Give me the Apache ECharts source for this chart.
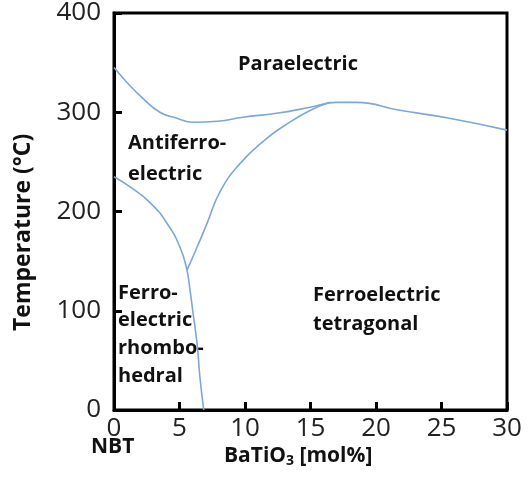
<!DOCTYPE html>
<html>
<head>
<meta charset="utf-8">
<script src="https://cdn.jsdelivr.net/npm/echarts@6/dist/echarts.min.js"></script>
<style>html,body{margin:0;padding:0;background:#fff;}#c{width:531px;height:477px;}</style>
</head>
<body>
<div id="c"></div>
<script>
// Paraelectric boundary (upper curve)
var paraX = [0, 1.2, 2.2, 3.5, 4.8, 6.0, 7.9, 9.85, 12.4, 15.0, 17.0, 18.5, 21.8, 25.6, 30];
var paraY = [345, 327, 314, 300, 294, 290, 291, 295, 299, 305, 310, 310, 302, 294, 282];
// Antiferroelectric / rhombohedral boundary
var antiX = [0, 1.2, 2.75, 4.05, 5.04, 5.57, 5.8, 6.03, 6.34, 6.56, 6.85];
var antiY = [235, 225, 209, 188, 164, 141, 121, 98, 67, 33, 0];
// Antiferroelectric / tetragonal boundary
var tetX = [5.57, 6.34, 7.1, 8.1, 9.6, 11.5, 13.3, 15.0, 16.5];
var tetY = [141, 164, 188, 220, 248, 272, 289, 302, 310];

var xTicks = [0, 5, 10, 15, 20, 25, 30];
var yTicks = [0, 100, 200, 300, 400];

function pairs(xs, ys) { return xs.map(function (x, i) { return [x, ys[i]]; }); }

var chart = echarts.init(document.getElementById('c'));
var lineStyle = { color: '#7da7d8', width: 1.6 };
var font = '"Open Sans", sans-serif';
var labelStyle = { fontFamily: font, fontWeight: 'bold', fontSize: 20, fill: '#111' };

chart.setOption({
  animation: false,
  grid: { left: 114, right: 24, top: 13, bottom: 67, show: true, borderColor: '#000', borderWidth: 3 },
  xAxis: {
    type: 'value', min: 0, max: 30, interval: 5,
    axisLine: { show: true, lineStyle: { color: '#000', width: 3 } },
    axisTick: { show: true, inside: true, length: 8, lineStyle: { color: '#000', width: 3 } },
    axisLabel: { fontSize: 26, color: '#222', fontFamily: font, margin: 6 },
    splitLine: { show: false }
  },
  yAxis: {
    type: 'value', min: 0, max: 400, interval: 100,
    axisLine: { show: true, lineStyle: { color: '#000', width: 3 } },
    axisTick: { show: true, inside: true, length: 8, lineStyle: { color: '#000', width: 3 } },
    axisLabel: { fontSize: 26, color: '#222', fontFamily: font, margin: 13 },
    splitLine: { show: false }
  },
  series: [
    { type: 'line', data: pairs(paraX, paraY), smooth: 0.5, showSymbol: false, lineStyle: lineStyle },
    { type: 'line', data: pairs(antiX, antiY), smooth: 0.5, showSymbol: false, lineStyle: lineStyle },
    { type: 'line', data: pairs(tetX, tetY), smooth: 0.5, showSymbol: false, lineStyle: lineStyle }
  ],
  graphic: [
    { type: 'text', left: 238, top: 49, style: Object.assign({ text: 'Paraelectric', lineHeight: 30 }, labelStyle) },
    { type: 'text', left: 128, top: 128, style: Object.assign({ text: 'Antiferro-\nelectric', lineHeight: 31 }, labelStyle) },
    { type: 'text', left: 118, top: 279, style: Object.assign({ text: 'Ferro-\nelectric\nrhombo-\nhedral', lineHeight: 27.7 }, labelStyle) },
    { type: 'text', left: 313, top: 281, style: Object.assign({ text: 'Ferroelectric\ntetragonal', lineHeight: 29 }, labelStyle) },
    { type: 'text', left: 91, top: 437, style: { text: 'NBT', fontFamily: font, fontWeight: 'bold', fontSize: 21, fill: '#111' } },
    { type: 'text', left: 224, top: 446, style: {
        text: '{a|BaTiO}{s|3}{a| [mol%]}',
        rich: {
          a: { fontFamily: font, fontWeight: 'bold', fontSize: 21, fill: '#111' },
          s: { fontFamily: font, fontWeight: 'bold', fontSize: 14, fill: '#111', padding: [9, 0, 0, 0] }
        }
      } },
    { type: 'text', x: 12, y: 331, rotation: Math.PI / 2, style: {
        text: 'Temperature (°C)', fontFamily: font, fontWeight: 'bold', fontSize: 23, fill: '#111'
      } }
  ]
});
</script>
</body>
</html>
